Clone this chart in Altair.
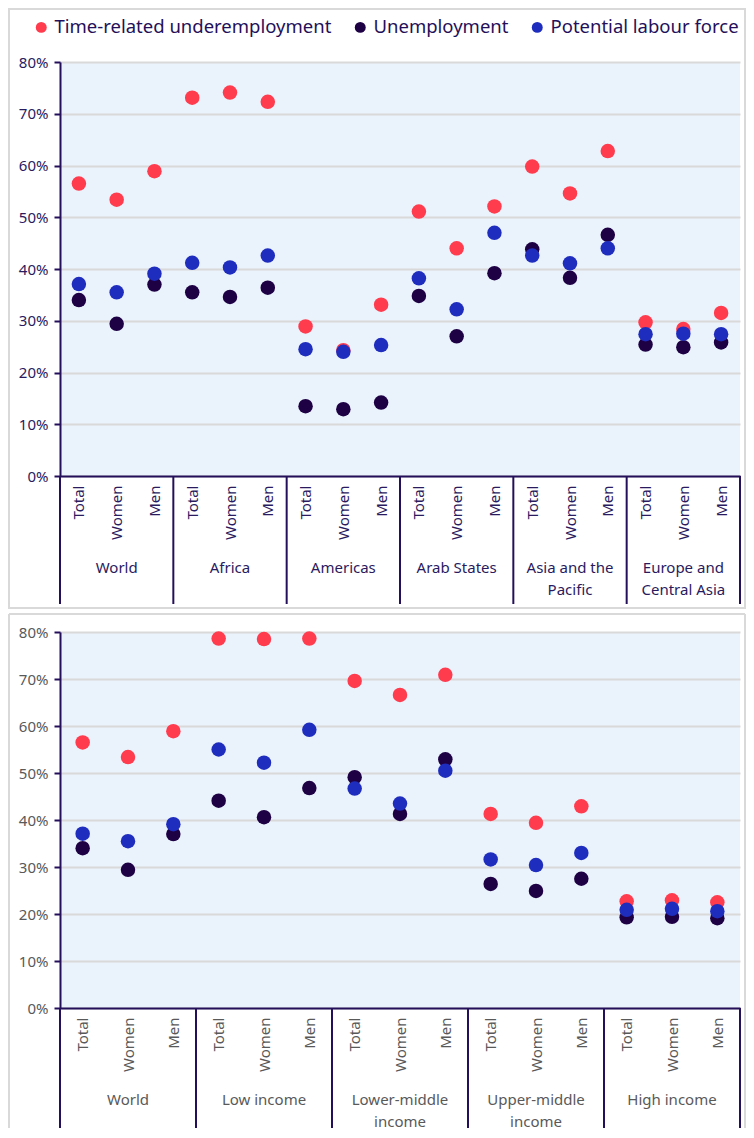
import altair as alt
import pandas as pd

# ---------------- data ----------------
subs = ["Total", "Women", "Men"]
series_names = ["Time-related underemployment", "Unemployment", "Potential labour force"]
series_colors = ["#FF3B4E", "#1E0044", "#1F2DBE"]

groups_top = ["World", "Africa", "Americas", "Arab States", "Asia and the\nPacific", "Europe and\nCentral Asia"]
under_top = [56.5, 53.4, 58.9, 73.1, 74.1, 72.3, 28.9, 24.3, 33.1, 51.1, 44.0, 52.1, 59.8, 54.6, 62.8, 29.7, 28.4, 31.5]
unemp_top = [34.0, 29.4, 37.0, 35.5, 34.6, 36.4, 13.5, 12.9, 14.2, 34.8, 27.0, 39.2, 43.8, 38.3, 46.6, 25.4, 24.9, 25.8]
plf_top = [37.1, 35.5, 39.1, 41.2, 40.3, 42.6, 24.5, 24.0, 25.3, 38.2, 32.2, 47.0, 42.6, 41.1, 44.0, 27.4, 27.5, 27.4]

groups_bot = ["World", "Low income", "Lower-middle\nincome", "Upper-middle\nincome", "High income"]
under_bot = [56.5, 53.4, 58.9, 78.6, 78.5, 78.6, 69.6, 66.6, 70.9, 41.3, 39.4, 42.9, 22.7, 22.9, 22.5]
unemp_bot = [34.0, 29.4, 37.0, 44.1, 40.6, 46.8, 49.1, 41.3, 52.9, 26.4, 24.9, 27.5, 19.3, 19.4, 19.1]
plf_bot = [37.1, 35.5, 39.1, 55.0, 52.2, 59.2, 46.7, 43.5, 50.5, 31.6, 30.4, 33.0, 20.9, 21.1, 20.6]

y_ticks = [0, 0.1, 0.2, 0.3, 0.4, 0.5, 0.6, 0.7, 0.8]

LINE = "#24105A"
W = 680


def points_df(series_lists):
    rows = []
    for name, vals in zip(series_names, series_lists):
        for i, v in enumerate(vals):
            rows.append({"pos": i + 0.5, "series": name, "value": v / 100})
    return pd.DataFrame(rows)


def panel(groups, series_lists, height, text_color, frame="rect"):
    n = len(groups) * 3
    xscale = alt.Scale(domain=[0, n], nice=False, zero=False)
    yscale = alt.Scale(domain=[0, 0.8], nice=False)
    pts = points_df(series_lists)

    xaxis = alt.Axis(
        values=[i + 0.5 for i in range(n)],
        labelExpr="datum.value % 3 < 1 ? 'Total' : (datum.value % 3 < 2 ? 'Women' : 'Men')",
        labelAngle=-90, labelAlign="right", labelBaseline="middle",
        ticks=False, grid=False, domainColor=LINE, domainWidth=2,
        labelPadding=9, labelFontSize=15, labelColor=text_color,
        labelOverlap=False, labelFlush=False, title=None,
    )

    legend = alt.Legend(
        title=None, orient="none", legendX=-28, legendY=-44, direction="horizontal",
        symbolType="circle", symbolSize=120, labelFontSize=18.5, labelColor=LINE,
        labelLimit=400, columnPadding=19, symbolStrokeWidth=0, labelFont="Noto Sans",
    )

    points = alt.Chart(pts).mark_circle(size=210, opacity=1).encode(
        x=alt.X("pos:Q", scale=xscale, axis=xaxis),
        y=alt.Y("value:Q", scale=yscale, axis=alt.Axis(
            values=y_ticks, format=".0%", title=None, grid=True,
            gridColor="#D9D9D9", gridWidth=2, domainColor=LINE, domainWidth=2,
            tickColor=LINE, tickWidth=2, tickSize=6, labelFontSize=15,
            labelColor=text_color, labelPadding=6,
        )),
        color=alt.Color("series:N", scale=alt.Scale(domain=series_names, range=series_colors),
                        legend=legend, sort=series_names),
    )

    seps = pd.DataFrame({"pos": [3 * i for i in range(len(groups) + 1)]})
    sep_bottom = height + 128 if frame == "rect" else height + 120
    sep = alt.Chart(seps).mark_rule(color=LINE, strokeWidth=2).encode(
        x=alt.X("pos:Q", scale=xscale, axis=xaxis),
        y=alt.value(height), y2=alt.value(sep_bottom),
    )

    glab = pd.DataFrame({"pos": [3 * i + 1.5 for i in range(len(groups))], "label": groups})
    gtext = alt.Chart(glab).mark_text(
        lineBreak="\n", baseline="top", align="center", fontSize=15,
        color=text_color, lineHeight=22,
    ).encode(
        x=alt.X("pos:Q", scale=xscale, axis=xaxis),
        y=alt.value(height + 85),
        text="label:N",
    )

    one = pd.DataFrame({"k": [0]})
    if frame == "rect":
        fr = alt.Chart(one).mark_rect(fillOpacity=0, stroke="#D9D9D9", strokeWidth=2).encode(
            x=alt.value(-51), x2=alt.value(W + 5), y=alt.value(-53), y2=alt.value(height + 132),
        )
        frames = [fr]
    else:
        top = alt.Chart(one).mark_rule(color="#D9D9D9", strokeWidth=2).encode(
            x=alt.value(-51), x2=alt.value(W + 5), y=alt.value(-18))
        left = alt.Chart(one).mark_rule(color="#D9D9D9", strokeWidth=2).encode(
            x=alt.value(-51), y=alt.value(-18), y2=alt.value(height + 120))
        right = alt.Chart(one).mark_rule(color="#D9D9D9", strokeWidth=2).encode(
            x=alt.value(W + 5), y=alt.value(-18), y2=alt.value(height + 120))
        frames = [top, left, right]

    return alt.layer(*frames, points, sep, gtext).properties(width=W, height=height)


top_chart = panel(groups_top, [under_top, unemp_top, plf_top], 414, "#2A1A5E", frame="rect")
bot_chart = panel(groups_bot, [under_bot, unemp_bot, plf_bot], 376, "#595959", frame="open")

chart = alt.vconcat(top_chart, bot_chart, spacing=4).properties(
    padding=0, background="white"
).configure(font="Noto Sans").configure_view(stroke=None, fill="#EAF3FC")

chart.save("out.html", embed_options={"renderer": "svg", "actions": False})
